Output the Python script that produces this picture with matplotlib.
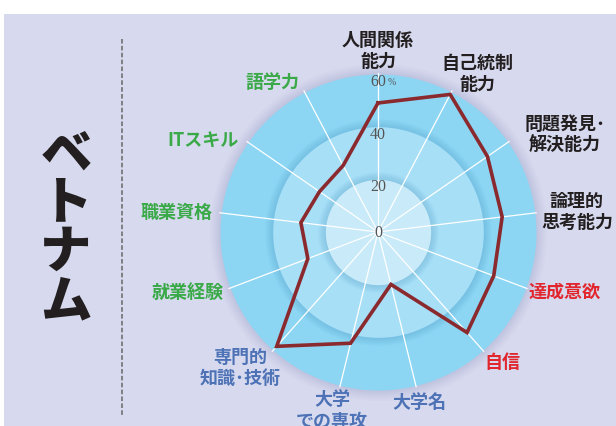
import numpy as np
import matplotlib.pyplot as plt
from matplotlib.patches import Rectangle
from matplotlib.lines import Line2D

# Japanese labels need a CJK family
plt.rcParams['font.family'] = ['Noto Sans CJK JP', 'DejaVu Sans']

# ベトナム: skill items (clockwise from top) and share of respondents (%)
items = ['人間関係\n能力', '自己統制\n能力', '問題発見･\n解決能力', '論理的\n思考能力',
         '達成意欲', '自信', '大学名', '大学\nでの専攻', '専門的\n知識･技術',
         '就業経験', '職業資格', 'ITスキル', '語学力']
values = [49, 59, 50.5, 47.5, 47, 51, 20.5, 43.5, 58, 28.5, 29.5, 27, 28.5]
groups = ['k', 'k', 'k', 'k', 'r', 'r', 'b', 'b', 'b', 'g', 'g', 'g', 'g']
ticks = [0, 20, 40, 60]

group_colors = {'k': '#231f20', 'r': '#e2262e', 'b': '#4d72b6', 'g': '#3aa948'}
# label offsets (pixels) from the end of each spoke
label_offsets = [(0, 24), (26, 19), (57, 8), (42, 2), (39, -3), (20, -11), (4, -16),
                 (-8, -24), (-33, -17), (-43, -3), (-45, 1), (-45, 3), (-32, 11)]

W, H = 616, 427
fig = plt.figure(figsize=(W / 100, H / 100), dpi=100)
fig.patch.set_facecolor('white')
fig.patches.append(Rectangle((4 / W, 0), 1, 1 - 15 / H, transform=fig.transFigure,
                             facecolor='#d7daee', edgecolor='none', zorder=-5))

# vertical title and dashed separator
fig.text(66 / W, 1 - 228 / H, 'ベ\nト\nナ\nム', ha='center', va='center',
         fontsize=37, fontweight='heavy', color='#231f20', linespacing=0.92)
fig.lines.append(Line2D([122 / W, 122 / W], [1 - 40 / H, 1 - 417 / H],
                        transform=fig.transFigure, color='#666666', lw=1.1,
                        dashes=(3, 1.5), zorder=-4))

cx, cy, R = 378, 233, 158
ax = fig.add_axes([(cx - R) / W, (H - cy - R) / H, 2 * R / W, 2 * R / H], polar=True)
ax.set_theta_zero_location('N')
ax.set_theta_direction(-1)
ax.set_ylim(0, 60)
ax.axis('off')

t = np.linspace(0, 2 * np.pi, 400)

# soft shadow round the outer disk
for s in np.linspace(64, 60.2, 8):
    ax.fill_between(t, 0, s, color='#6a6f9a', alpha=0.025, lw=0, clip_on=False)
ax.fill_between(t, 0, 60, color='#8cd6f4', lw=0, clip_on=False)

# shadow + middle disk
for s in np.linspace(43, 40.2, 7):
    ax.fill_between(t, 0, s, color='#3f8fbf', alpha=0.045, lw=0)
ax.fill_between(t, 0, 40, color='#a7dff7', lw=0)

# shadow + inner disk
for s in np.linspace(23, 20.2, 7):
    ax.fill_between(t, 0, s, color='#3f8fbf', alpha=0.045, lw=0)
ax.fill_between(t, 0, 20, color='#c8eaf9', lw=0)

n = len(items)
angles = np.arange(n) * 2 * np.pi / n

for a in angles:
    ax.plot([a, a], [0, 60.5], color='white', lw=0.9, clip_on=False, zorder=3)

# scale labels
for v in ticks:
    ax.text(0, max(v - 2.6, 0), str(v), ha='center', va='center', fontsize=11.5,
            family='Liberation Serif', color='#555555', zorder=4)
ax.annotate('%', xy=(0, 57.4), xytext=(10, -1), textcoords='offset pixels',
            ha='left', va='center', fontsize=7, family='Liberation Serif',
            color='#555555', zorder=4)

# data polygon
vals = values + values[:1]
angs = list(angles) + [angles[0]]
ax.plot(angs, vals, color='#8b2a2e', lw=2.6, zorder=5, solid_joinstyle='miter')

# item labels
for a, name, g, off in zip(angles, items, groups, label_offsets):
    ax.annotate(name, xy=(a, 60), xytext=off, textcoords='offset pixels',
                ha='center', va='center', fontsize=13, fontweight='bold',
                color=group_colors[g], linespacing=1.15, annotation_clip=False)

fig.savefig('out.png', dpi=100)
